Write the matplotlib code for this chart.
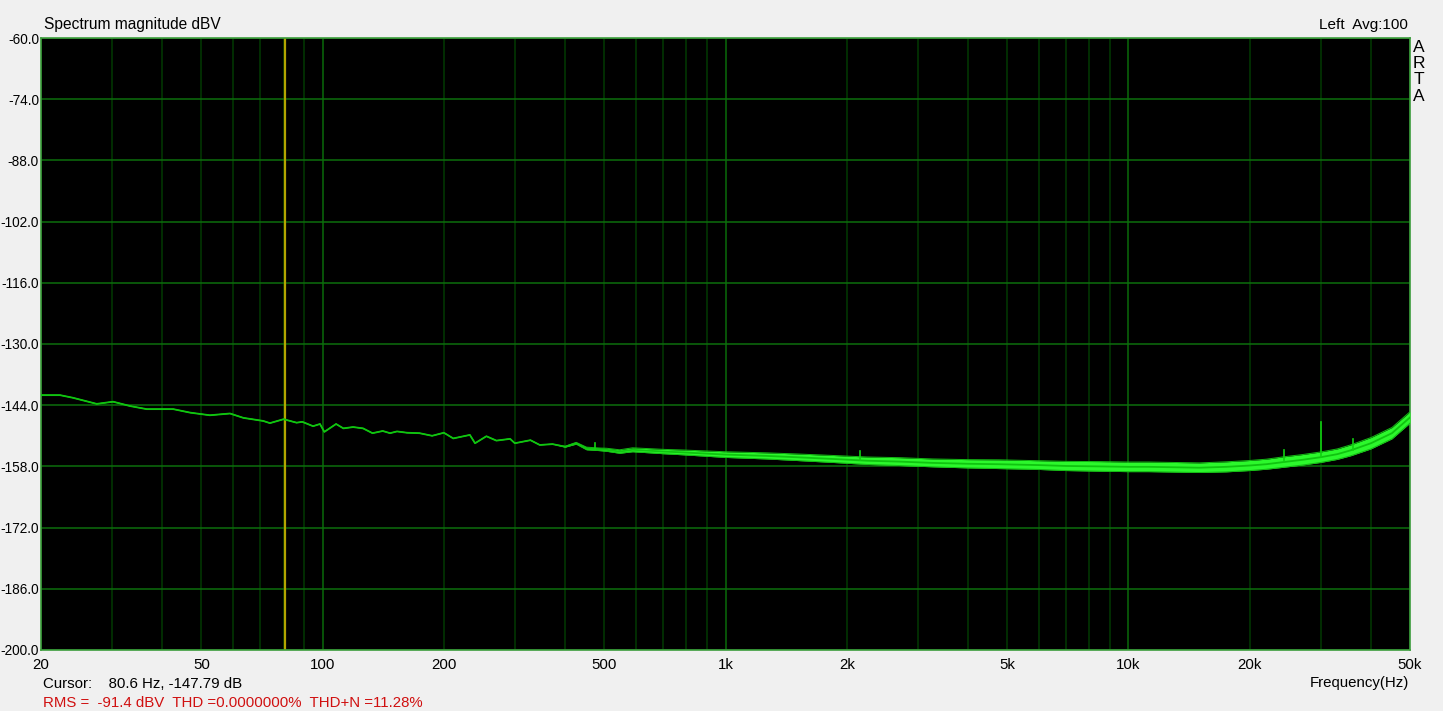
import matplotlib
matplotlib.use("Agg")
import matplotlib.pyplot as plt
import numpy as np

plt.rcParams['font.family'] = ['Liberation Sans', 'DejaVu Sans']

# ---- data ----
freq_hz = [20, 22.3, 24, 27.5, 30.2, 33.3, 36.6, 42.6, 46.9, 52.5, 58.9, 63.6,
           71.2, 74, 80, 86.2, 89, 94.7, 98.5, 101, 108, 112.6, 119, 126, 133,
           141, 147, 153, 162, 174, 187, 200, 211, 232, 239, 255, 270, 292, 300,
           328, 346, 372, 400, 426, 452, 488, 507, 546, 588, 700, 784, 1000,
           1264, 1500, 1848, 2245, 2700, 3272, 4000, 4780, 6000, 7000, 8480,
           10000, 11240, 13000, 15000, 17500, 20000, 22000, 24300, 27000,
           30000, 33000, 35700, 40000, 45100, 50000]
level_db = [-141.7, -141.7, -142.3, -143.7, -143.2, -144.2, -144.9, -144.9,
            -145.7, -146.3, -145.9, -146.9, -147.6, -148.1, -147.2, -148.0,
            -147.8, -148.8, -148.3, -150.1, -148.3, -149.3, -149.0, -149.3,
            -150.4, -149.9, -150.4, -150.0, -150.3, -150.4, -151.0, -150.3,
            -151.6, -150.8, -152.7, -151.1, -152.1, -151.7, -152.7, -152.0,
            -153.1, -152.9, -153.5, -152.7, -153.9, -154.1, -154.2, -154.6,
            -154.2, -154.6, -154.8, -155.3, -155.6, -155.9, -156.3, -156.7,
            -156.9, -157.2, -157.4, -157.5, -157.7, -157.9, -158.0, -158.1,
            -158.1, -158.2, -158.3, -158.1, -157.8, -157.5, -157.0, -156.5,
            -155.9, -155.2, -154.3, -152.7, -150.4, -146.8]
spread_db = [0.0, 0.0, 0.0, 0.0, 0.0, 0.0, 0.0, 0.0, 0.0, 0.0, 0.0, 0.0,
             0.0, 0.0, 0.0, 0.0, 0.0, 0.0, 0.0, 0.0, 0.0, 0.0, 0.0, 0.0, 0.0,
             0.0, 0.0, 0.0, 0.0, 0.0, 0.0, 0.0, 0.0, 0.0, 0.0, 0.0, 0.0, 0.0,
             0.0, 0.0, 0.0, 0.0, 0.1, 0.2, 0.3, 0.3, 0.35, 0.4, 0.45, 0.5,
             0.55, 0.65, 0.7, 0.75, 0.8, 0.85, 0.9, 0.9, 0.95, 1.0, 1.0, 1.05,
             1.1, 1.1, 1.1, 1.1, 1.1, 1.15, 1.15, 1.15, 1.2, 1.2, 1.2, 1.2,
             1.25, 1.3, 1.3, 1.3]
spike_hz = [474, 2156, 24300, 30000, 36000]
spike_top_db = [-152.6, -154.4, -154.3, -147.8, -151.7]

cursor_hz = 80.6
y_ticks = [-60.0, -74.0, -88.0, -102.0, -116.0, -130.0, -144.0, -158.0,
           -172.0, -186.0, -200.0]
x_grid_hz = [20, 30, 40, 50, 60, 70, 80, 90, 100, 200, 300, 400, 500, 600,
             700, 800, 900, 1000, 2000, 3000, 4000, 5000, 6000, 7000, 8000,
             9000, 10000, 20000, 30000, 40000, 50000]
x_major_hz = [100, 1000, 10000]
x_label_hz = [20, 50, 100, 200, 500, 1000, 2000, 5000, 10000, 20000, 50000]
x_label_txt = ['20', '50', '100', '200', '500', '1k', '2k', '5k', '10k',
               '20k', '50k']

# ---- figure ----
W, H = 1443, 711
fig = plt.figure(figsize=(W / 100, H / 100), dpi=100, facecolor='#f0f0f0')
L, R, T, B = 41, 1410, 38, 650
ax = fig.add_axes([L / W, 1 - B / H, (R - L) / W, (B - T) / H])
ax.set_facecolor('black')
ax.set_xscale('log')
ax.set_xlim(20, 50000)
ax.set_ylim(-200, -60)

for f in x_grid_hz:
    c = '#0a6a0a' if f in x_major_hz else '#023a02'
    ax.axvline(f, color=c, lw=1.1, zorder=1)
for y in y_ticks:
    ax.axhline(y, color='#0c6e0c', lw=1.1, zorder=1)

ax.axvline(cursor_hz, color='#b4a400', lw=1.6, zorder=2)

f = np.array(freq_hz)
lv = np.array(level_db)
sp = np.array(spread_db)
ax.fill_between(f, lv - sp, lv + sp, color='#2cf82c', lw=0, zorder=3)
ax.plot(f, lv + sp, color='#14b814', lw=0.7, zorder=3)
ax.plot(f, lv - sp, color='#14b814', lw=0.7, zorder=3)
ax.plot(f, lv, color='#10c410', lw=1.3, zorder=4)
for sf, st in zip(spike_hz, spike_top_db):
    base = np.interp(np.log10(sf), np.log10(f), lv)
    ax.plot([sf, sf], [base, st], color='#10d010', lw=1.2, zorder=4)

ax.set_yticks(y_ticks)
ax.set_yticklabels([f"{v:.1f}" for v in y_ticks], fontsize=9.8)
ax.set_xticks(x_label_hz)
ax.set_xticklabels(x_label_txt, fontsize=10.8)
ax.xaxis.set_minor_locator(matplotlib.ticker.NullLocator())
ax.tick_params(axis='both', length=0, colors='black')
ax.tick_params(axis='y', pad=1.5)
ax.tick_params(axis='x', pad=6)
for s in ax.spines.values():
    s.set_color('#3c9c3c')
    s.set_linewidth(1.2)

# texts
fig.text(44 / W, 1 - 24 / H, 'Spectrum magnitude dBV', fontsize=11.2,
         ha='left', va='center')
fig.text(1408 / W, 1 - 25 / H, 'Left  Avg:100', fontsize=11,
         ha='right', va='center')
for i, ch in enumerate('ARTA'):
    fig.text(1419 / W, 1 - (47 + i * 16.5) / H, ch, fontsize=12.5,
             ha='center', va='center')
fig.text(43 / W, 1 - 684 / H, 'Cursor:    80.6 Hz, -147.79 dB', fontsize=10.8,
         ha='left', va='center')
fig.text(43 / W, 1 - 703 / H,
         'RMS =  -91.4 dBV  THD =0.0000000%  THD+N =11.28%',
         fontsize=10.8, ha='left', va='center', color='#d01010')
fig.text(1409 / W, 1 - 683 / H, 'Frequency(Hz)', fontsize=10.8,
         ha='right', va='center')

fig.savefig('out.png', dpi=100, facecolor=fig.get_facecolor())
